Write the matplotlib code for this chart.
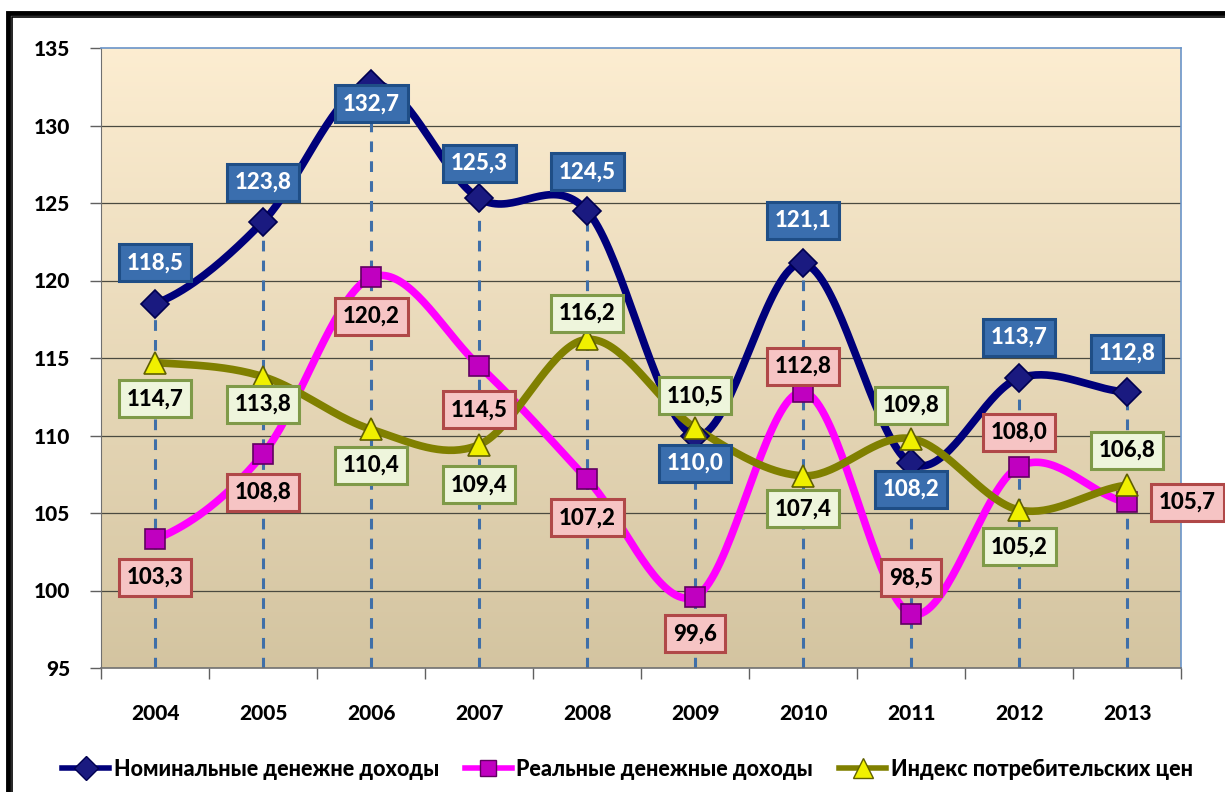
import numpy as np
import matplotlib
matplotlib.use("Agg")
import matplotlib.pyplot as plt
from matplotlib.patches import Rectangle
from matplotlib.lines import Line2D

years = ["2004", "2005", "2006", "2007", "2008", "2009", "2010", "2011", "2012", "2013"]
nominal = [118.5, 123.8, 132.7, 125.3, 124.5, 110.0, 121.1, 108.2, 113.7, 112.8]
real = [103.3, 108.8, 120.2, 114.5, 107.2, 99.6, 112.8, 98.5, 108.0, 105.7]
cpi = [114.7, 113.8, 110.4, 109.4, 116.2, 110.5, 107.4, 109.8, 105.2, 106.8]
series_names = ["Номинальные денежне доходы", "Реальные денежные доходы",
                "Индекс потребительских цен"]
y_ticks = [95, 100, 105, 110, 115, 120, 125, 130, 135]

# label offsets in pixels (layout only)
off_nom = [(0, 41), (0, 39), (0, -20), (0, 35), (0, 39), (0, -28), (0, 43), (0, -26), (0, 41), (0, 39)]
off_real = [(0, -38), (0, -38), (0, -39), (0, -44), (0, -39), (0, -37), (0, 26), (0, 36), (0, 34), (60, 0)]
off_cpi = [(0, -36), (0, -28), (0, -36), (0, -40), (0, 26), (0, 32), (0, -33), (0, 33), (0, -37), (0, 35)]

plt.rcParams['font.family'] = ['Lato', 'DejaVu Sans']
WEIGHT = 'black'

W, H = 1225, 792
fig = plt.figure(figsize=(W / 100, H / 100), dpi=100)
ax = fig.add_axes([101 / W, 1 - 668 / H, (1181 - 101) / W, (668 - 48) / H])

x = np.arange(len(years))
ax.set_xlim(-0.5, len(years) - 0.5)
ax.set_ylim(95, 135)

# gradient background
grad = np.linspace(0, 1, 256).reshape(-1, 1)
top = np.array([0.99, 0.93, 0.82])
bot = np.array([0.83, 0.77, 0.63])
img = top[None, None, :] * (1 - grad[:, :, None]) + bot[None, None, :] * grad[:, :, None]
ax.imshow(img, extent=[-0.5, len(years) - 0.5, 95, 135], aspect='auto', zorder=0, origin='upper')

for yv in y_ticks[1:-1]:
    ax.axhline(yv, color='#4a4a40', lw=0.9, zorder=1)


def smooth(xs, ys, n=40):
    xs = np.asarray(xs, float)
    ys = np.asarray(ys, float)
    px = np.concatenate([[2 * xs[0] - xs[1]], xs, [2 * xs[-1] - xs[-2]]])
    py = np.concatenate([[ys[0]], ys, [ys[-1]]])
    ox, oy = [], []
    for i in range(1, len(px) - 2):
        t = np.linspace(0, 1, n)
        p0, p1, p2, p3 = py[i - 1], py[i], py[i + 1], py[i + 2]
        q0, q1, q2, q3 = px[i - 1], px[i], px[i + 1], px[i + 2]
        m1y = (p2 - p0) / 2
        m2y = (p3 - p1) / 2
        m1x = (q2 - q0) / 2
        m2x = (q3 - q1) / 2
        h00 = 2 * t**3 - 3 * t**2 + 1
        h10 = t**3 - 2 * t**2 + t
        h01 = -2 * t**3 + 3 * t**2
        h11 = t**3 - t**2
        ox.append(h00 * q1 + h10 * m1x + h01 * q2 + h11 * m2x)
        oy.append(h00 * p1 + h10 * m1y + h01 * p2 + h11 * m2y)
    return np.concatenate(ox), np.concatenate(oy)


# drop lines
tops = np.max(np.vstack([nominal, real, cpi]), axis=0)
ax.vlines(x, 95, tops, colors='#3f6fa8', linestyles=(0, (3.5, 3)), lw=2.2, zorder=2)

styles = [
    (nominal, '#00007a', 'D', '#1a1a80', '#000050', 14),
    (real, '#ff00ff', 's', '#c000c0', '#600060', 14),
    (cpi, '#808000', '^', '#f0f000', '#606000', 16),
]
for vals, col, mk, mfc, mec, ms in styles:
    sx, sy = smooth(x, vals)
    ax.plot(sx, sy, color=col, lw=5.5, zorder=3, solid_capstyle='round')
    ax.plot(x, vals, linestyle='none', marker=mk, ms=ms, mfc=mfc, mec=mec, mew=1.2, zorder=4)

label_styles = [
    (nominal, off_nom, '#3a6eae', '#1f4e86', 'white'),
    (real, off_real, '#f6c4c4', '#b04848', 'black'),
    (cpi, off_cpi, '#eef5dc', '#7f9a48', 'black'),
]
for vals, offs, fc, ec, tc in label_styles:
    for xi, v, (dx, dy) in zip(x, vals, offs):
        ax.annotate(f"{v:.1f}".replace('.', ','), (xi, v), xytext=(dx, dy),
                    textcoords='offset pixels', ha='center', va='center',
                    fontsize=16, fontweight=WEIGHT, color=tc, zorder=6,
                    bbox=dict(boxstyle='square,pad=0.36', fc=fc, ec=ec, lw=2.2))

ax.set_yticks(y_ticks)
ax.set_yticklabels([str(t) for t in y_ticks], fontsize=15, fontweight=WEIGHT)
ax.set_xticks(x)
ax.set_xticklabels(years, fontsize=15, fontweight=WEIGHT)
ax.tick_params(axis='x', length=0, pad=26)
ax.set_xticks(np.arange(-0.5, len(years)), minor=True)
ax.tick_params(axis='x', which='minor', length=8, color='#606060', width=1)
ax.tick_params(axis='y', length=8, color='#606060', width=1, pad=14)
for s in ['top', 'right']:
    ax.spines[s].set_color('#6a94c8')
    ax.spines[s].set_linewidth(1.2)
ax.spines['left'].set_color('#707070')
ax.spines['bottom'].set_color('#707070')
ax.spines['bottom'].set_linewidth(1.2)

handles = [
    Line2D([], [], color='#00007a', lw=4, marker='D', ms=12, mfc='#1a1a80', mec='#000050'),
    Line2D([], [], color='#ff00ff', lw=4, marker='s', ms=12, mfc='#c000c0', mec='#600060'),
    Line2D([], [], color='#808000', lw=4, marker='^', ms=14, mfc='#f0f000', mec='#606000'),
]
fig.legend(handles, series_names, loc='center', bbox_to_anchor=(0.512, 1 - 769 / H), ncol=3,
           frameon=False, prop={'weight': WEIGHT, 'size': 15.5}, handlelength=2.2,
           handletextpad=0.2, columnspacing=1.2)

# outer double frame
fig.add_artist(Rectangle((8 / W, -0.05), 1.1, 1 - 13 / H + 0.05, transform=fig.transFigure,
                         fill=False, ec='black', lw=3.5))
fig.add_artist(Rectangle((12 / W, -0.05), 1.1, 1 - 17 / H + 0.05, transform=fig.transFigure,
                         fill=False, ec='black', lw=1.2))

fig.savefig('out.png', dpi=100)
